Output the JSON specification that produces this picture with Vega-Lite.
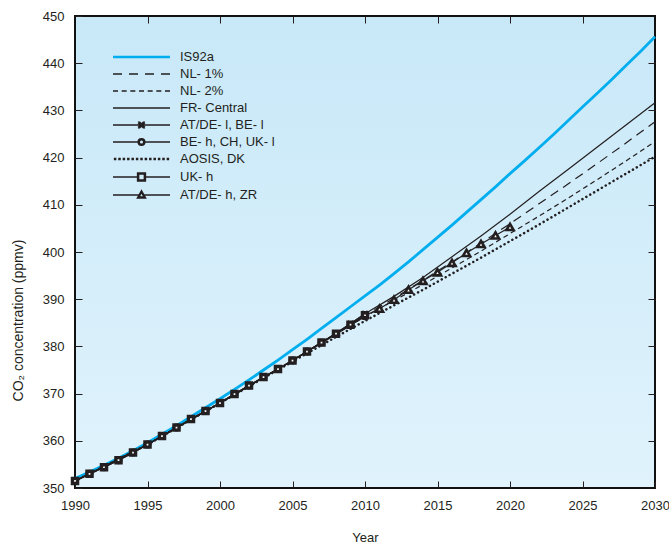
{
  "$schema": "https://vega.github.io/schema/vega-lite/v6.json",
  "width": 580,
  "height": 472,
  "autosize": {"type": "none"},
  "padding": {"left": 75, "top": 16, "right": 14, "bottom": 59},
  "background": "white",
  "config": {
    "font": "Liberation Sans",
    "view": {
      "stroke": "#111111", "strokeWidth": 2,
      "fill": {"gradient": "linear", "x1": 0, "y1": 0, "x2": 0, "y2": 1,
        "stops": [{"offset": 0, "color": "#c8e8f8"}, {"offset": 1, "color": "#e0f3fc"}]}
    },
    "axis": {
      "grid": false, "domain": false, "tickColor": "#231f20", "tickSize": -7, "tickWidth": 1,
      "labelFontSize": 13, "labelColor": "#231f20", "labelFont": "Liberation Sans",
      "titleFontSize": 13, "titleColor": "#231f20", "titleFont": "Liberation Sans", "titleFontWeight": "normal"
    }
  },
  "resolve": {"axis": {"x": "independent", "y": "independent"}},
  "data": {"values": [
    {"s":"IS92a","x":1990,"y":352.0},{"s":"IS92a","x":1991,"y":353.4},{"s":"IS92a","x":1992,"y":354.8},{"s":"IS92a","x":1993,"y":356.3},{"s":"IS92a","x":1994,"y":357.9},
    {"s":"IS92a","x":1995,"y":359.6},{"s":"IS92a","x":1996,"y":361.4},{"s":"IS92a","x":1997,"y":363.2},{"s":"IS92a","x":1998,"y":365.1},{"s":"IS92a","x":1999,"y":367.0},
    {"s":"IS92a","x":2000,"y":368.9},{"s":"IS92a","x":2001,"y":370.9},{"s":"IS92a","x":2002,"y":372.9},{"s":"IS92a","x":2003,"y":375.0},{"s":"IS92a","x":2004,"y":377.1},
    {"s":"IS92a","x":2005,"y":379.3},{"s":"IS92a","x":2006,"y":381.5},{"s":"IS92a","x":2007,"y":383.8},{"s":"IS92a","x":2008,"y":386.1},{"s":"IS92a","x":2009,"y":388.4},
    {"s":"IS92a","x":2010,"y":390.7},{"s":"IS92a","x":2011,"y":393.0},{"s":"IS92a","x":2012,"y":395.4},{"s":"IS92a","x":2013,"y":397.9},{"s":"IS92a","x":2014,"y":400.5},
    {"s":"IS92a","x":2015,"y":403.1},{"s":"IS92a","x":2016,"y":405.7},{"s":"IS92a","x":2017,"y":408.4},{"s":"IS92a","x":2018,"y":411.1},{"s":"IS92a","x":2019,"y":413.8},
    {"s":"IS92a","x":2020,"y":416.6},{"s":"IS92a","x":2021,"y":419.3},{"s":"IS92a","x":2022,"y":422.1},{"s":"IS92a","x":2023,"y":424.9},{"s":"IS92a","x":2024,"y":427.8},
    {"s":"IS92a","x":2025,"y":430.7},{"s":"IS92a","x":2026,"y":433.6},{"s":"IS92a","x":2027,"y":436.5},{"s":"IS92a","x":2028,"y":439.5},{"s":"IS92a","x":2029,"y":442.5},
    {"s":"IS92a","x":2030,"y":445.6},

    {"s":"UK- h","x":1990,"y":351.5},{"s":"UK- h","x":1991,"y":353.0},{"s":"UK- h","x":1992,"y":354.4},{"s":"UK- h","x":1993,"y":355.9},{"s":"UK- h","x":1994,"y":357.5},
    {"s":"UK- h","x":1995,"y":359.2},{"s":"UK- h","x":1996,"y":361.0},{"s":"UK- h","x":1997,"y":362.8},{"s":"UK- h","x":1998,"y":364.6},{"s":"UK- h","x":1999,"y":366.3},
    {"s":"UK- h","x":2000,"y":368.0},{"s":"UK- h","x":2001,"y":369.9},{"s":"UK- h","x":2002,"y":371.7},{"s":"UK- h","x":2003,"y":373.5},{"s":"UK- h","x":2004,"y":375.2},
    {"s":"UK- h","x":2005,"y":377.0},{"s":"UK- h","x":2006,"y":378.9},{"s":"UK- h","x":2007,"y":380.8},{"s":"UK- h","x":2008,"y":382.7},{"s":"UK- h","x":2009,"y":384.6},
    {"s":"UK- h","x":2010,"y":386.6},

    {"s":"AT/DE- l, BE- l","x":1990,"y":351.5},{"s":"AT/DE- l, BE- l","x":1991,"y":353.0},{"s":"AT/DE- l, BE- l","x":1992,"y":354.4},{"s":"AT/DE- l, BE- l","x":1993,"y":355.9},{"s":"AT/DE- l, BE- l","x":1994,"y":357.5},
    {"s":"AT/DE- l, BE- l","x":1995,"y":359.2},{"s":"AT/DE- l, BE- l","x":1996,"y":361.0},{"s":"AT/DE- l, BE- l","x":1997,"y":362.8},{"s":"AT/DE- l, BE- l","x":1998,"y":364.6},{"s":"AT/DE- l, BE- l","x":1999,"y":366.3},
    {"s":"AT/DE- l, BE- l","x":2000,"y":368.0},{"s":"AT/DE- l, BE- l","x":2001,"y":369.9},{"s":"AT/DE- l, BE- l","x":2002,"y":371.7},{"s":"AT/DE- l, BE- l","x":2003,"y":373.5},{"s":"AT/DE- l, BE- l","x":2004,"y":375.2},
    {"s":"AT/DE- l, BE- l","x":2005,"y":377.0},{"s":"AT/DE- l, BE- l","x":2006,"y":378.9},{"s":"AT/DE- l, BE- l","x":2007,"y":380.8},{"s":"AT/DE- l, BE- l","x":2008,"y":382.8},{"s":"AT/DE- l, BE- l","x":2009,"y":384.8},
    {"s":"AT/DE- l, BE- l","x":2010,"y":386.9},

    {"s":"BE- h, CH, UK- l","x":1990,"y":351.5},{"s":"BE- h, CH, UK- l","x":1991,"y":353.0},{"s":"BE- h, CH, UK- l","x":1992,"y":354.4},{"s":"BE- h, CH, UK- l","x":1993,"y":355.9},{"s":"BE- h, CH, UK- l","x":1994,"y":357.5},
    {"s":"BE- h, CH, UK- l","x":1995,"y":359.2},{"s":"BE- h, CH, UK- l","x":1996,"y":361.0},{"s":"BE- h, CH, UK- l","x":1997,"y":362.8},{"s":"BE- h, CH, UK- l","x":1998,"y":364.6},{"s":"BE- h, CH, UK- l","x":1999,"y":366.3},
    {"s":"BE- h, CH, UK- l","x":2000,"y":368.0},{"s":"BE- h, CH, UK- l","x":2001,"y":369.9},{"s":"BE- h, CH, UK- l","x":2002,"y":371.7},{"s":"BE- h, CH, UK- l","x":2003,"y":373.5},{"s":"BE- h, CH, UK- l","x":2004,"y":375.2},
    {"s":"BE- h, CH, UK- l","x":2005,"y":377.0},{"s":"BE- h, CH, UK- l","x":2006,"y":378.9},{"s":"BE- h, CH, UK- l","x":2007,"y":380.8},{"s":"BE- h, CH, UK- l","x":2008,"y":382.6},{"s":"BE- h, CH, UK- l","x":2009,"y":384.5},
    {"s":"BE- h, CH, UK- l","x":2010,"y":386.4},

    {"s":"AT/DE- h, ZR","x":1990,"y":351.5},{"s":"AT/DE- h, ZR","x":1995,"y":359.2},{"s":"AT/DE- h, ZR","x":2000,"y":368.0},{"s":"AT/DE- h, ZR","x":2005,"y":377.0},
    {"s":"AT/DE- h, ZR","x":2008,"y":382.7},{"s":"AT/DE- h, ZR","x":2010,"y":386.5},{"s":"AT/DE- h, ZR","x":2011,"y":388.0},{"s":"AT/DE- h, ZR","x":2012,"y":389.9},
    {"s":"AT/DE- h, ZR","x":2013,"y":392.0},{"s":"AT/DE- h, ZR","x":2014,"y":393.9},{"s":"AT/DE- h, ZR","x":2015,"y":395.7},{"s":"AT/DE- h, ZR","x":2016,"y":397.7},
    {"s":"AT/DE- h, ZR","x":2017,"y":399.8},{"s":"AT/DE- h, ZR","x":2018,"y":401.7},{"s":"AT/DE- h, ZR","x":2019,"y":403.5},{"s":"AT/DE- h, ZR","x":2020,"y":405.3},

    {"s":"FR- Central","x":1990,"y":351.5},{"s":"FR- Central","x":1995,"y":359.2},{"s":"FR- Central","x":2000,"y":368.0},{"s":"FR- Central","x":2005,"y":377.0},
    {"s":"FR- Central","x":2008,"y":382.8},{"s":"FR- Central","x":2010,"y":386.9},{"s":"FR- Central","x":2012,"y":390.6},{"s":"FR- Central","x":2014,"y":394.6},
    {"s":"FR- Central","x":2016,"y":399.0},{"s":"FR- Central","x":2018,"y":403.4},{"s":"FR- Central","x":2020,"y":408.0},{"s":"FR- Central","x":2022,"y":412.8},
    {"s":"FR- Central","x":2024,"y":417.5},{"s":"FR- Central","x":2026,"y":422.2},{"s":"FR- Central","x":2028,"y":426.9},{"s":"FR- Central","x":2030,"y":431.6},

    {"s":"NL- 1%","x":1990,"y":351.5},{"s":"NL- 1%","x":1995,"y":359.2},{"s":"NL- 1%","x":2000,"y":368.0},{"s":"NL- 1%","x":2005,"y":377.0},
    {"s":"NL- 1%","x":2008,"y":382.7},{"s":"NL- 1%","x":2010,"y":386.6},{"s":"NL- 1%","x":2012,"y":390.2},{"s":"NL- 1%","x":2014,"y":394.0},
    {"s":"NL- 1%","x":2016,"y":397.9},{"s":"NL- 1%","x":2018,"y":401.9},{"s":"NL- 1%","x":2020,"y":406.0},{"s":"NL- 1%","x":2022,"y":410.2},
    {"s":"NL- 1%","x":2024,"y":414.4},{"s":"NL- 1%","x":2026,"y":418.7},{"s":"NL- 1%","x":2028,"y":423.1},{"s":"NL- 1%","x":2030,"y":427.6},

    {"s":"NL- 2%","x":1990,"y":351.5},{"s":"NL- 2%","x":1995,"y":359.2},{"s":"NL- 2%","x":2000,"y":368.0},{"s":"NL- 2%","x":2005,"y":377.0},
    {"s":"NL- 2%","x":2008,"y":382.6},{"s":"NL- 2%","x":2010,"y":386.3},{"s":"NL- 2%","x":2012,"y":389.7},{"s":"NL- 2%","x":2014,"y":393.1},
    {"s":"NL- 2%","x":2016,"y":396.6},{"s":"NL- 2%","x":2018,"y":400.2},{"s":"NL- 2%","x":2020,"y":403.9},{"s":"NL- 2%","x":2022,"y":407.6},
    {"s":"NL- 2%","x":2024,"y":411.4},{"s":"NL- 2%","x":2026,"y":415.3},{"s":"NL- 2%","x":2028,"y":419.3},{"s":"NL- 2%","x":2030,"y":423.4},

    {"s":"AOSIS, DK","x":1990,"y":351.5},{"s":"AOSIS, DK","x":1995,"y":359.2},{"s":"AOSIS, DK","x":2000,"y":368.0},{"s":"AOSIS, DK","x":2005,"y":376.8},
    {"s":"AOSIS, DK","x":2008,"y":382.0},{"s":"AOSIS, DK","x":2010,"y":385.4},{"s":"AOSIS, DK","x":2012,"y":388.7},{"s":"AOSIS, DK","x":2014,"y":392.0},
    {"s":"AOSIS, DK","x":2016,"y":395.4},{"s":"AOSIS, DK","x":2018,"y":398.8},{"s":"AOSIS, DK","x":2020,"y":402.3},{"s":"AOSIS, DK","x":2022,"y":405.8},
    {"s":"AOSIS, DK","x":2024,"y":409.4},{"s":"AOSIS, DK","x":2026,"y":413.0},{"s":"AOSIS, DK","x":2028,"y":416.6},{"s":"AOSIS, DK","x":2030,"y":420.2}
  ]},
  "encoding": {
    "x": {"field": "x", "type": "quantitative", "scale": {"domain": [1990, 2030], "nice": false, "zero": false}, "axis": null},
    "y": {"field": "y", "type": "quantitative", "scale": {"domain": [350, 450], "nice": false, "zero": false}, "axis": null}
  },
  "layer": [
    {
      "encoding": {
        "color": {
          "field": "s", "type": "nominal",
          "scale": {
            "domain": ["IS92a", "NL- 1%", "NL- 2%", "FR- Central", "AT/DE- l, BE- l", "BE- h, CH, UK- l", "AOSIS, DK", "UK- h", "AT/DE- h, ZR"],
            "range": ["#00aeef", "#231f20", "#231f20", "#231f20", "#231f20", "#231f20", "#231f20", "#231f20", "#231f20"]
          },
          "legend": {
            "title": null, "orient": "none", "legendX": 38, "legendY": 34.5,
            "symbolSize": 64, "symbolStrokeWidth": 1.3, "symbolOffset": 22, "labelOffset": 32, "rowPadding": 3,
            "labelFontSize": 13, "labelFont": "Liberation Sans", "labelColor": "#231f20"
          }
        }
      },
      "layer": [
        {
          "transform": [{"filter": "datum.x < 0"}],
          "mark": {"type": "point", "filled": false, "strokeWidth": 1.3, "opacity": 1, "size": 64},
          "encoding": {
            "shape": {
              "field": "s", "type": "nominal",
              "scale": {
                "domain": ["IS92a", "NL- 1%", "NL- 2%", "FR- Central", "AT/DE- l, BE- l", "BE- h, CH, UK- l", "AOSIS, DK", "UK- h", "AT/DE- h, ZR"],
                "range": [
                  "M-7.125,-0.15L7.125,-0.15M-7.125,0.15L7.125,0.15",
                  "M-7.125,0L-4.875,0M-3.125,0L-0.875,0M0.875,0L3.125,0M4.875,0L7.125,0",
                  "M-7.125,0L-5.875,0M-4.958,0L-3.708,0M-2.792,0L-1.542,0M-0.625,0L0.625,0M1.542,0L2.792,0M3.708,0L4.958,0M5.875,0L7.125,0",
                  "M-7.125,0L7.125,0",
                  "M-7.125,0L7.125,0M-0.85,-0.85L0.85,0.85M-0.85,0.85L0.85,-0.85M-0.85,-0.55L0.55,0.85M-0.55,-0.85L0.85,0.55M-0.85,0.55L0.55,-0.85M-0.55,0.85L0.85,-0.55",
                  "M-7.125,0L-0.85,0M0.85,0L7.125,0M-0.85,0A0.85,0.85,0,1,1,0.85,0A0.85,0.85,0,1,1,-0.85,0ZM-0.55,0A0.55,0.55,0,1,1,0.55,0A0.55,0.55,0,1,1,-0.55,0Z",
                  "M-6.75,-0.15L-6.45,-0.15L-6.45,0.15L-6.75,0.15ZM-5.65,-0.15L-5.35,-0.15L-5.35,0.15L-5.65,0.15ZM-4.55,-0.15L-4.25,-0.15L-4.25,0.15L-4.55,0.15ZM-3.45,-0.15L-3.15,-0.15L-3.15,0.15L-3.45,0.15ZM-2.35,-0.15L-2.05,-0.15L-2.05,0.15L-2.35,0.15ZM-1.25,-0.15L-0.95,-0.15L-0.95,0.15L-1.25,0.15ZM-0.15,-0.15L0.15,-0.15L0.15,0.15L-0.15,0.15ZM0.95,-0.15L1.25,-0.15L1.25,0.15L0.95,0.15ZM2.05,-0.15L2.35,-0.15L2.35,0.15L2.05,0.15ZM3.15,-0.15L3.45,-0.15L3.45,0.15L3.15,0.15ZM4.25,-0.15L4.55,-0.15L4.55,0.15L4.25,0.15ZM5.35,-0.15L5.65,-0.15L5.65,0.15L5.35,0.15ZM6.45,-0.15L6.75,-0.15L6.75,0.15L6.45,0.15Z",
                  "M-7.125,0L-1,0M1,0L7.125,0M-1,-1L1,-1L1,1L-1,1ZM-0.7,-0.7L0.7,-0.7L0.7,0.7L-0.7,0.7Z",
                  "M-7.125,0L-0.62,0M0.62,0L7.125,0M0,-1.1L1.05,0.75L-1.05,0.75ZM0,-0.62L0.6,0.48L-0.6,0.48Z"
                ]
              },
              "legend": {
                "title": null, "orient": "none", "legendX": 38, "legendY": 34.5,
                "symbolSize": 64, "symbolStrokeWidth": 1.3, "symbolOffset": 22, "labelOffset": 32, "rowPadding": 3,
                "labelFontSize": 13, "labelFont": "Liberation Sans", "labelColor": "#231f20"
              }
            }
          }
        },
        {
          "transform": [{"filter": {"field": "s", "equal": "IS92a"}}],
          "mark": {"type": "line", "strokeWidth": 2.8, "strokeJoin": "round"}
        },
        {
          "transform": [{"filter": {"field": "s", "oneOf": ["FR- Central", "AT/DE- l, BE- l", "BE- h, CH, UK- l", "UK- h", "AT/DE- h, ZR"]}}],
          "mark": {"type": "line", "strokeWidth": 1.2}
        },
        {
          "transform": [{"filter": {"field": "s", "equal": "NL- 1%"}}],
          "mark": {"type": "line", "strokeWidth": 1.2, "strokeDash": [9, 6]}
        },
        {
          "transform": [{"filter": {"field": "s", "equal": "NL- 2%"}}],
          "mark": {"type": "line", "strokeWidth": 1.2, "strokeDash": [5, 3.5]}
        },
        {
          "transform": [{"filter": {"field": "s", "equal": "AOSIS, DK"}}],
          "mark": {"type": "line", "strokeWidth": 2.5, "strokeDash": [0.1, 4.4], "strokeCap": "round"}
        }
      ]
    },
    {
      "transform": [{"filter": {"field": "s", "equal": "AT/DE- l, BE- l"}}],
      "mark": {"type": "point", "shape": "M-1,-1L1,1M-1,1L1,-1", "size": 30, "filled": false, "stroke": "#231f20", "strokeWidth": 2.2, "opacity": 1}
    },
    {
      "transform": [{"filter": {"field": "s", "equal": "BE- h, CH, UK- l"}}],
      "mark": {"type": "point", "shape": "circle", "size": 30, "filled": true, "fill": "white", "stroke": "#231f20", "strokeWidth": 2.5, "opacity": 1}
    },
    {
      "transform": [{"filter": {"field": "s", "equal": "UK- h"}}],
      "mark": {"type": "point", "shape": "square", "size": 26, "filled": true, "fill": "white", "stroke": "#231f20", "strokeWidth": 3.4, "opacity": 1},
      "encoding": {
        "x": {"field": "x", "type": "quantitative", "scale": {"domain": [1990, 2030], "nice": false, "zero": false},
          "axis": {"orient": "top", "labels": false, "title": null, "values": [1995, 2000, 2005, 2010, 2015, 2020, 2025]}},
        "y": {"field": "y", "type": "quantitative", "scale": {"domain": [350, 450], "nice": false, "zero": false},
          "axis": {"orient": "right", "labels": false, "title": null, "values": [360, 370, 380, 390, 400, 410, 420, 430, 440]}}
      }
    },
    {
      "transform": [{"filter": "datum.s === 'AT/DE- h, ZR' && datum.x >= 2011"}],
      "mark": {"type": "point", "shape": "triangle-up", "size": 50, "filled": true, "fill": "white", "stroke": "#231f20", "strokeWidth": 2.6, "opacity": 1},
      "encoding": {
        "x": {"field": "x", "type": "quantitative", "scale": {"domain": [1990, 2030], "nice": false, "zero": false},
          "axis": {"orient": "bottom", "title": "Year", "values": [1990, 1995, 2000, 2005, 2010, 2015, 2020, 2025, 2030], "format": "d", "labelPadding": 18, "labelFlush": false, "labelOverlap": false, "titleY": 49, "titleBaseline": "middle"}},
        "y": {"field": "y", "type": "quantitative", "scale": {"domain": [350, 450], "nice": false, "zero": false},
          "axis": {"orient": "left", "title": "CO₂ concentration  (ppmv)", "titleFontSize": 14, "values": [350, 360, 370, 380, 390, 400, 410, 420, 430, 440, 450], "labelPadding": 18, "titleX": -57, "titleY": 304, "titleBaseline": "middle", "titleAlign": "center"}}
      }
    }
  ]
}
